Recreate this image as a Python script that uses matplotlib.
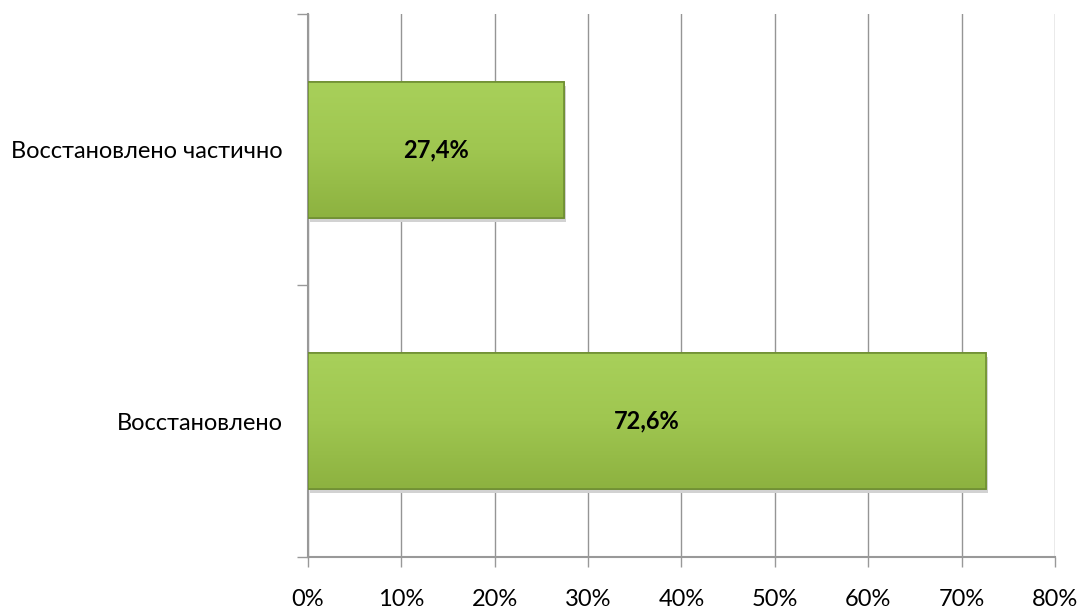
import numpy as np
import matplotlib.pyplot as plt
from matplotlib.colors import LinearSegmentedColormap

plt.rcParams['font.family'] = ['Lato', 'DejaVu Sans']

categories = ['Восстановлено', 'Восстановлено частично']
values = [72.6, 27.4]
labels = ['72,6%', '27,4%']
xticks = [0, 10, 20, 30, 40, 50, 60, 70, 80]

fig = plt.figure(figsize=(10.8, 6.1), dpi=100)
ax = fig.add_axes([0.285, 0.087, 0.692, 0.890])

ypos = np.arange(len(categories))
bars = ax.barh(ypos, values, height=0.5, color='#9cc24f', edgecolor='#6f8f33',
               linewidth=1.2, zorder=3)

# vertical gradient inside each bar
cmap = LinearSegmentedColormap.from_list('g', ['#8db240', '#9fc650', '#a8d05a'])
grad = np.linspace(0, 1, 100).reshape(-1, 1)
for b in bars:
    x0, y0, w, h = b.get_x(), b.get_y(), b.get_width(), b.get_height()
    # soft shadow
    ax.add_patch(plt.Rectangle((x0 + 0.25, y0 - 0.015), w, h, color='#d2d2d2',
                               zorder=2, linewidth=0))
    im = ax.imshow(grad, extent=(x0, x0 + w, y0, y0 + h), cmap=cmap,
                   aspect='auto', origin='lower', zorder=3.5)
    im.set_clip_path(b)
    ax.add_patch(plt.Rectangle((x0, y0), w, h, fill=False, edgecolor='#6f8f33',
                               linewidth=1.2, zorder=4))

for v, y, t in zip(values, ypos, labels):
    ax.text(v / 2, y, t, ha='center', va='center', fontsize=17,
            fontweight='bold', color='black', zorder=5)

ax.set_xlim(0, 80)
ax.set_ylim(-0.5, 1.5)
ax.set_xticks(xticks)
ax.set_xticklabels([f'{t}%' for t in xticks], fontsize=17)
ax.set_yticks([-0.5, 0.5, 1.5], minor=False)
ax.set_yticklabels([])
ax.set_yticks(ypos, minor=True)
ax.set_yticklabels(categories, minor=True, fontsize=17)
ax.tick_params(axis='y', which='minor', length=0, pad=18)
ax.tick_params(axis='y', which='major', length=8, color='#999999', width=1)
ax.tick_params(axis='x', length=7, color='#999999', width=1, pad=16)

ax.grid(axis='x', color='#959595', linewidth=1, zorder=0)
for s in ['top', 'right']:
    ax.spines[s].set_visible(False)
for s in ['left', 'bottom']:
    ax.spines[s].set_color('#999999')
    ax.spines[s].set_linewidth(1.5)

fig.savefig('out.png', dpi=100)
